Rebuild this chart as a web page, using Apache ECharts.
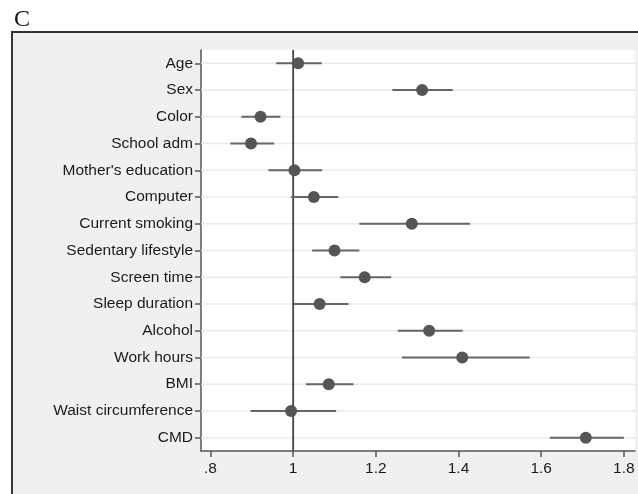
<!DOCTYPE html>
<html><head><meta charset="utf-8">
<style>html,body{margin:0;padding:0;background:#fff}#c{width:638px;height:494px}</style>
<script src="https://cdn.jsdelivr.net/npm/echarts@6/dist/echarts.min.js"></script>
</head><body><div id="c"></div>
<script>
const categories = ["Age","Sex","Color","School adm","Mother's education","Computer","Current smoking","Sedentary lifestyle","Screen time","Sleep duration","Alcohol","Work hours","BMI","Waist circumference","CMD"];
const estimates = [1.012,1.312,0.921,0.898,1.003,1.050,1.287,1.100,1.173,1.064,1.329,1.409,1.086,0.995,1.708];
const lower = [0.959,1.240,0.875,0.848,0.940,0.995,1.160,1.046,1.114,1.002,1.253,1.263,1.031,0.897,1.621];
const upper = [1.069,1.386,0.969,0.954,1.070,1.109,1.428,1.160,1.237,1.134,1.410,1.572,1.146,1.104,1.800];
const tickValues = [0.8,1.0,1.2,1.4,1.6,1.8];
const tickLabels = [".8","1","1.2","1.4","1.6","1.8"];
const refValue = 1;

const chart = echarts.init(document.getElementById('c'), null, {renderer:'canvas'});
const ciData = categories.map((c,i)=>[lower[i], upper[i], i]);
chart.setOption({
  animation:false,
  backgroundColor:'#fff',
  graphic:[
    {type:'rect', z:-10, silent:true, shape:{x:12,y:32,width:640,height:470}, style:{fill:'#f0f0f0', stroke:'#333', lineWidth:2}},
    {type:'text', left:14, top:8, style:{text:'C', font:'24px "Liberation Serif", "Times New Roman", serif', fill:'#111'}}
  ],
  grid:{left:201, right:3, top:50, bottom:43, show:true, backgroundColor:'#fff', borderWidth:0},
  xAxis:{
    type:'value', min:0.777, max:1.827,
    axisLine:{show:true, lineStyle:{color:'#555', width:1.5}},
    axisTick:{show:true, length:6, lineStyle:{color:'#555', width:1.5}, customValues: tickValues},
    axisLabel:{customValues: tickValues, formatter:(v)=>{const k=tickValues.findIndex(t=>Math.abs(t-v)<1e-6);return k>=0?tickLabels[k]:'';}, color:'#1a1a1a', fontSize:15.5, fontFamily:'"Liberation Sans", Arial, sans-serif', margin:10},
    splitLine:{show:false}
  },
  yAxis:{
    type:'category', data:categories, inverse:true, boundaryGap:true,
    axisLine:{show:true, lineStyle:{color:'#555', width:1.5}},
    axisTick:{show:true, alignWithLabel:true, length:6, lineStyle:{color:'#555', width:1.5}},
    axisLabel:{color:'#1a1a1a', fontSize:15.5, fontFamily:'"Liberation Sans", Arial, sans-serif', margin:8},
    splitLine:{show:false}
  },
  series:[
    {type:'custom', z:1, silent:true, data:categories.map((c,i)=>[i]),
      renderItem:(params, api)=>{
        const i = api.value(0);
        const a = api.coord([0.777, i]); const b = api.coord([1.827, i]);
        return {type:'line', shape:{x1:a[0],y1:a[1],x2:b[0],y2:b[1]}, style:{stroke:'#eaeaea', lineWidth:1.5}};
      }, encode:{x:-1,y:0}},
    {type:'custom', z:2, silent:true, data:[[refValue]],
      renderItem:(params, api)=>{
        const top = api.coord([api.value(0), 0]); 
        const cs = params.coordSys;
        return {type:'line', shape:{x1:top[0],y1:cs.y,x2:top[0],y2:cs.y+cs.height}, style:{stroke:'#444', lineWidth:1.8}};
      }, encode:{x:0}},
    {type:'custom', z:3, silent:true, data:ciData,
      renderItem:(params, api)=>{
        const a = api.coord([api.value(0), api.value(2)]);
        const b = api.coord([api.value(1), api.value(2)]);
        return {type:'line', shape:{x1:a[0],y1:a[1],x2:b[0],y2:b[1]}, style:{stroke:'#666', lineWidth:2}};
      }, encode:{x:[0,1], y:2}},
    {type:'scatter', z:4, symbol:'circle', symbolSize:12, itemStyle:{color:'#555', opacity:1},
      data: estimates.map((v,i)=>[v, i])}
  ]
});
</script></body></html>
